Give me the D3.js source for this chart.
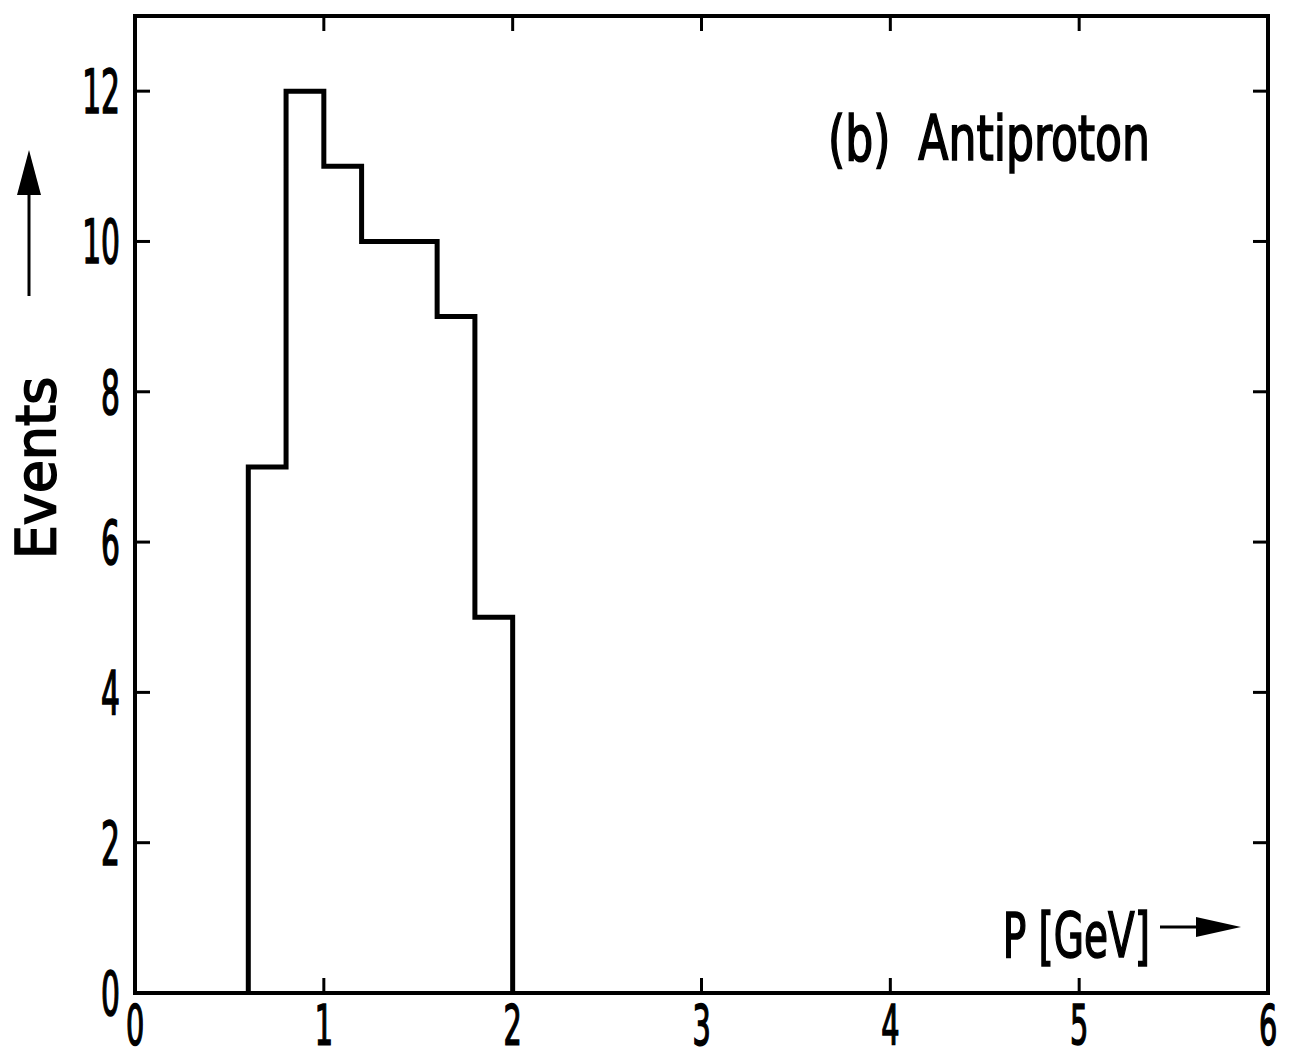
<!DOCTYPE html>
<html>
<head>
<meta charset="utf-8">
<script src="https://cdn.jsdelivr.net/npm/d3@7.8.5/dist/d3.min.js"></script>
<style>
  html, body { margin: 0; padding: 0; background: #fff; }
  svg { display: block; }
  text {
    font-family: "DejaVu Sans Condensed", "DejaVu Sans", sans-serif;
    fill: #000; stroke: #000; stroke-width: 1.6px; white-space: pre;
  }
</style>
</head>
<body>
<script>
// histogram bins (GeV) and counts
const binEdges = [0.6, 0.8, 1.0, 1.2, 1.4, 1.6, 1.8, 2.0];
const counts = [7, 12, 11, 10, 10, 9, 5];
const xTicks = [0, 1, 2, 3, 4, 5, 6];
const yTicks = [0, 2, 4, 6, 8, 10, 12];

const W = 1294, H = 1058;
const M = { left: 135, right: 26, top: 16, bottom: 65 };
const TICK = 15;

const svg = d3.select("body").append("svg").attr("width", W).attr("height", H);

const x = d3.scaleLinear().domain([0, 6]).range([M.left, W - M.right]);
const y = d3.scaleLinear().domain([0, 13]).range([H - M.bottom, M.top]);

// condensed text helper
function ctext(str, px, py, size, sx, anchor, rot) {
  const g = svg.append("g").attr("transform", `translate(${px},${py}) rotate(${rot || 0}) scale(${sx},1)`);
  g.append("text")
    .attr("text-anchor", anchor || "middle")
    .attr("xml:space", "preserve")
    .style("font-size", size + "px")
    .text(str);
  return g;
}

// ticks (inward, on all four sides)
const ticksG = svg.append("g").attr("stroke", "#000").attr("stroke-width", 3);
xTicks.slice(1, -1).forEach(t => {
  ticksG.append("line").attr("x1", x(t)).attr("x2", x(t)).attr("y1", y(0)).attr("y2", y(0) - TICK);
  ticksG.append("line").attr("x1", x(t)).attr("x2", x(t)).attr("y1", y(13)).attr("y2", y(13) + TICK);
});
yTicks.slice(1).forEach(t => {
  ticksG.append("line").attr("x1", x(0)).attr("x2", x(0) + TICK).attr("y1", y(t)).attr("y2", y(t));
  ticksG.append("line").attr("x1", x(6)).attr("x2", x(6) - TICK).attr("y1", y(t)).attr("y2", y(t));
});

// frame
svg.append("rect")
  .attr("x", x(0)).attr("y", y(13))
  .attr("width", x(6) - x(0)).attr("height", y(0) - y(13))
  .attr("fill", "none").attr("stroke", "#000").attr("stroke-width", 4);

// histogram outline
const pts = [[binEdges[0], 0]];
counts.forEach((c, i) => { pts.push([binEdges[i], c]); pts.push([binEdges[i + 1], c]); });
pts.push([binEdges[binEdges.length - 1], 0]);
svg.append("path")
  .attr("d", d3.line().x(d => x(d[0])).y(d => y(d[1]))(pts))
  .attr("fill", "none").attr("stroke", "#000").attr("stroke-width", 5)
  .attr("stroke-linejoin", "miter");

// tick labels
xTicks.forEach(t => ctext(String(t), x(t), H - 14, 55, 0.58, "middle"));
yTicks.forEach(t => ctext(String(t), x(0) - 15, y(t) + 22, 60, 0.55, "end"));

// axis titles
ctext("Events", 55, 468, 56, 1.07, "middle", -90);
svg.append("line").attr("x1", 29).attr("x2", 29).attr("y1", 296).attr("y2", 190)
  .attr("stroke", "#000").attr("stroke-width", 3);
svg.append("path").attr("d", "M29,150 L17,195 L41,195 Z").attr("fill", "#000");

ctext("P [GeV]", 1150, 957, 62, 0.7, "end");
svg.append("line").attr("x1", 1160).attr("x2", 1200).attr("y1", 927).attr("y2", 927)
  .attr("stroke", "#000").attr("stroke-width", 3);
svg.append("path").attr("d", "M1241,927 L1196,917 L1196,937 Z").attr("fill", "#000");

ctext("(b)  Antiproton", 828, 160, 62, 0.79, "start");
</script>
</body>
</html>
